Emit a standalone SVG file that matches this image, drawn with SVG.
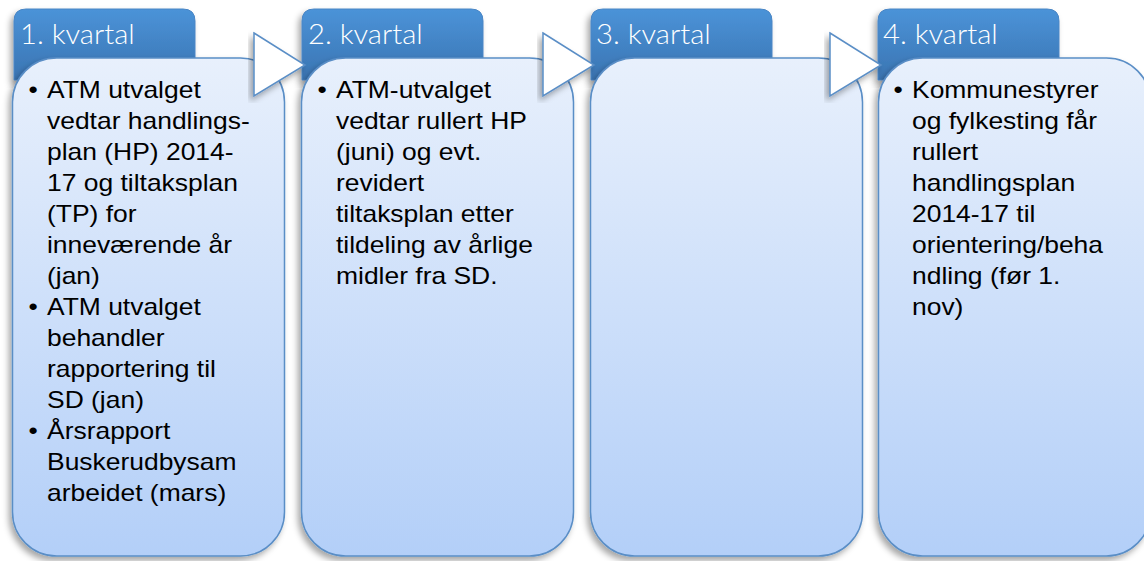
<svg xmlns="http://www.w3.org/2000/svg" width="1144" height="561" viewBox="0 0 1144 561">
<defs>
<linearGradient id="hg" x1="0" y1="0" x2="0" y2="1"><stop offset="0" stop-color="#4b93d8"/><stop offset="1" stop-color="#3a74b2"/></linearGradient>
<linearGradient id="bg" x1="0" y1="0" x2="0" y2="1"><stop offset="0" stop-color="#e8f0fc"/><stop offset="1" stop-color="#b3cff8"/></linearGradient>
<filter id="sh" x="-10%" y="-10%" width="120%" height="120%"><feDropShadow dx="-3" dy="4" stdDeviation="3" flood-color="#000" flood-opacity="0.35"/></filter>
</defs>
<style>
.hd{fill:url(#hg);stroke:#4a86c5;stroke-width:1;filter:url(#sh)}
.bd{fill:url(#bg);stroke:#5a8ec6;stroke-width:1.5;filter:url(#sh)}
.ar{fill:#fff;stroke:#5a8ec6;stroke-width:1.5;filter:url(#sh)}
.ht{font-family:Lato,"Open Sans",sans-serif;font-weight:300;font-size:27px;fill:#fff}
.bt{font-family:"Liberation Sans",Arial,sans-serif;font-size:23px;fill:#000}
</style>
<g id="q1">
<path class="hd" d="M14,80 V21 Q14,9 26,9 H183 Q195,9 195,21 V80 Z"/>
<text class="ht" transform="translate(20,44) scale(1.08,1)">1. kvartal</text>
<rect class="bd" x="12.5" y="58" width="272" height="498" rx="44"/>
<text class="bt" transform="translate(47,0) scale(1.15,1)">
<tspan x="-16" y="98">•</tspan><tspan x="0" y="98">ATM utvalget</tspan>
<tspan x="0" y="129">vedtar handlings-</tspan>
<tspan x="0" y="160">plan (HP) 2014-</tspan>
<tspan x="0" y="191">17 og tiltaksplan</tspan>
<tspan x="0" y="222">(TP) for</tspan>
<tspan x="0" y="253">inneværende år</tspan>
<tspan x="0" y="284">(jan)</tspan>
<tspan x="-16" y="315">•</tspan><tspan x="0" y="315">ATM utvalget</tspan>
<tspan x="0" y="346">behandler</tspan>
<tspan x="0" y="377">rapportering til</tspan>
<tspan x="0" y="408">SD (jan)</tspan>
<tspan x="-16" y="439">•</tspan><tspan x="0" y="439">Årsrapport</tspan>
<tspan x="0" y="470">Buskerudbysam</tspan>
<tspan x="0" y="501">arbeidet (mars)</tspan>
</text>
</g>
<g id="q2">
<path class="hd" d="M302,80 V21 Q302,9 314,9 H471 Q483,9 483,21 V80 Z"/>
<text class="ht" transform="translate(308,44) scale(1.08,1)">2. kvartal</text>
<rect class="bd" x="301.5" y="58" width="272" height="498" rx="44"/>
<text class="bt" transform="translate(336,0) scale(1.15,1)">
<tspan x="-16" y="98">•</tspan><tspan x="0" y="98">ATM-utvalget</tspan>
<tspan x="0" y="129">vedtar rullert HP</tspan>
<tspan x="0" y="160">(juni) og evt.</tspan>
<tspan x="0" y="191">revidert</tspan>
<tspan x="0" y="222">tiltaksplan etter</tspan>
<tspan x="0" y="253">tildeling av årlige</tspan>
<tspan x="0" y="284">midler fra SD.</tspan>
</text>
</g>
<g id="q3">
<path class="hd" d="M591,80 V21 Q591,9 603,9 H760 Q772,9 772,21 V80 Z"/>
<text class="ht" transform="translate(596,44) scale(1.08,1)">3. kvartal</text>
<rect class="bd" x="590.5" y="58" width="272" height="498" rx="44"/>
</g>
<g id="q4">
<path class="hd" d="M878,80 V21 Q878,9 890,9 H1047 Q1059,9 1059,21 V80 Z"/>
<text class="ht" transform="translate(883,44) scale(1.08,1)">4. kvartal</text>
<rect class="bd" x="878.5" y="58" width="272" height="498" rx="44"/>
<text class="bt" transform="translate(912,0) scale(1.15,1)">
<tspan x="-16" y="98">•</tspan><tspan x="0" y="98">Kommunestyrer</tspan>
<tspan x="0" y="129">og fylkesting får</tspan>
<tspan x="0" y="160">rullert</tspan>
<tspan x="0" y="191">handlingsplan</tspan>
<tspan x="0" y="222">2014-17 til</tspan>
<tspan x="0" y="253">orientering/beha</tspan>
<tspan x="0" y="284">ndling (før 1.</tspan>
<tspan x="0" y="315">nov)</tspan>
</text>
</g>
<g id="connectors">
<path class="ar" d="M254,33 L305,65 L254,96 Z"/>
<path class="ar" d="M543,33 L594,65 L543,96 Z"/>
<path class="ar" d="M830,33 L881,65 L830,96 Z"/>
</g>
</svg>
